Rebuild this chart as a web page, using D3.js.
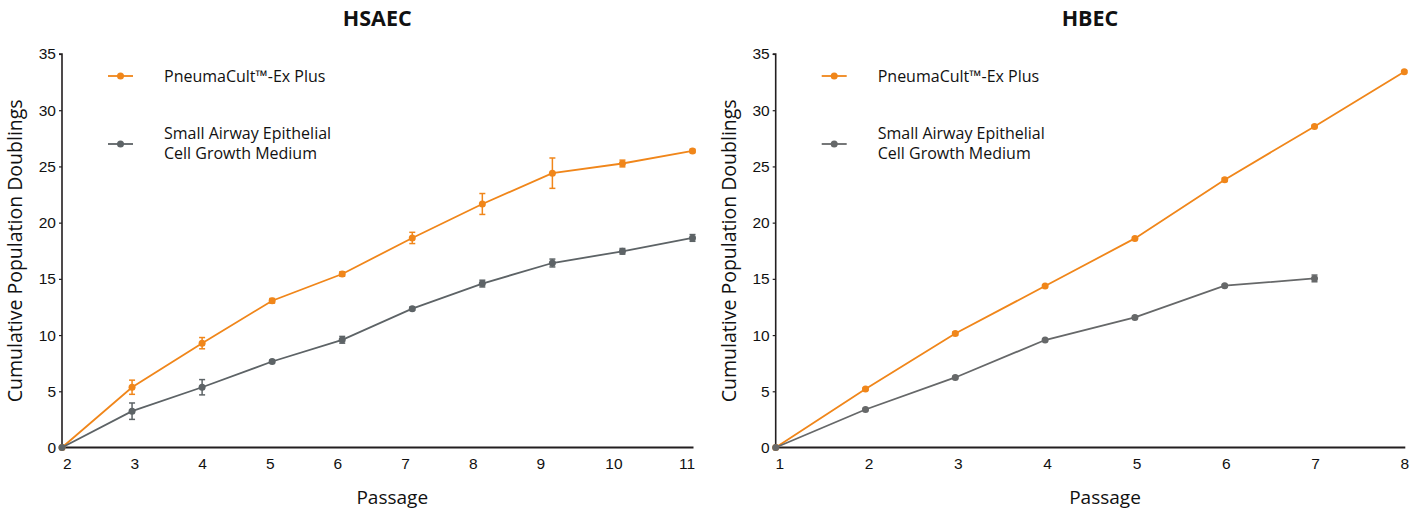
<!DOCTYPE html>
<html>
<head>
<meta charset="utf-8">
<script src="https://cdn.jsdelivr.net/npm/d3@7"></script>
<style>
  body { margin: 0; background: #fff; }
  svg { font-family: "Open Sans", "Noto Sans", sans-serif; }
</style>
</head>
<body>
<div id="chart"></div>
<script>
// HSAEC panel
const hsaecPassage = [2, 3, 4, 5, 6, 7, 8, 9, 10, 11];
const hsaecPneuma = [0, 5.36, 9.28, 13.05, 15.43, 18.64, 21.66, 24.4, 25.26, 26.38];
const hsaecPneumaErr = [0, 0.63, 0.5, 0.2, 0.2, 0.5, 0.93, 1.35, 0.3, 0.15];
const hsaecSaegm = [0, 3.23, 5.36, 7.65, 9.58, 12.35, 14.58, 16.41, 17.45, 18.64];
const hsaecSaegmErr = [0, 0.73, 0.68, 0.12, 0.3, 0.15, 0.3, 0.35, 0.25, 0.3];

// HBEC panel
const hbecPassage = [1, 2, 3, 4, 5, 6, 7, 8];
const hbecPneuma = [0, 5.2, 10.14, 14.36, 18.6, 23.82, 28.56, 33.43];
const hbecPneumaErr = [0, 0.1, 0.15, 0.1, 0.1, 0.15, 0.1, 0.1];
const hbecSaegm = [0, 3.38, 6.23, 9.56, 11.57, 14.39, 15.04];
const hbecSaegmErr = [0, 0.1, 0.1, 0.1, 0.1, 0.1, 0.3];

const yTicks = [0, 5, 10, 15, 20, 25, 30, 35];
const legendNames = [["PneumaCult\u2122-Ex Plus"], ["Small Airway Epithelial", "Cell Growth Medium"]];

const orange = "#f0861a";
const gray = "#5d6366";
const axisColor = "#231f20";

const width = 1422, height = 512;
const yTop = 54, yBottom = 447.5;

const svg = d3.select("#chart")
  .append("svg")
  .attr("width", width)
  .attr("height", height);

const y = d3.scaleLinear().domain([0, 35]).range([yBottom, yTop]);

function drawPanel(opts) {
  const g = svg.append("g");
  const x = d3.scaleLinear()
    .domain(d3.extent(opts.passages))
    .range([opts.left, opts.right]);
  // tick labels sit slightly off the data positions in the original
  const xLabel = d3.scaleLinear()
    .domain(opts.labelDomain)
    .range(opts.labelDomain.map((d, i) => x(d) + opts.labelShift[i]));

  // y axis
  g.append("g")
    .attr("transform", `translate(${opts.left},0)`)
    .call(d3.axisLeft(y).tickValues(yTicks).tickSize(3).tickPadding(3))
    .call(a => a.select(".domain").attr("stroke", axisColor).attr("stroke-width", 1.6).attr("d", `M-3,${yTop}H0V${yBottom}`))
    .call(a => a.selectAll(".tick line").attr("stroke", axisColor).attr("stroke-width", 1.2))
    .call(a => a.selectAll(".tick text").attr("font-size", 15.5).attr("fill", "#111"));

  // x axis
  g.append("g")
    .attr("transform", `translate(0,${yBottom})`)
    .call(d3.axisBottom(xLabel).tickValues(opts.passages).tickFormat(d3.format("d")).tickSize(0).tickPadding(10))
    .call(a => a.select(".domain").remove())
    .call(a => a.selectAll(".tick text").attr("font-size", 15.5).attr("fill", "#111"));
  g.append("line")
    .attr("x1", opts.left).attr("x2", opts.right + 1)
    .attr("y1", yBottom).attr("y2", yBottom)
    .attr("stroke", axisColor).attr("stroke-width", 1.8);

  // titles
  g.append("text")
    .attr("x", (opts.left + opts.right) / 2).attr("y", 26)
    .attr("text-anchor", "middle").attr("font-size", 21.5).attr("font-weight", "bold")
    .attr("fill", "#111").text(opts.title);
  g.append("text")
    .attr("x", (opts.left + opts.right) / 2 + 15).attr("y", 504)
    .attr("text-anchor", "middle").attr("font-size", 19).attr("fill", "#111")
    .text("Passage");
  g.append("text")
    .attr("transform", `translate(${opts.left - 40},${(yTop + yBottom) / 2}) rotate(-90)`)
    .attr("text-anchor", "middle").attr("font-size", 19.5).attr("fill", "#111")
    .text("Cumulative Population Doublings");

  const line = d3.line().x(d => x(d.p)).y(d => y(d.v));

  opts.series.forEach(s => {
    const pts = s.values.map((v, i) => ({ p: opts.passages[i], v: v, e: s.errors[i] }));
    g.append("path")
      .datum(pts)
      .attr("fill", "none")
      .attr("stroke", s.color)
      .attr("stroke-width", 1.8)
      .attr("d", line);

    const eb = g.append("g").attr("stroke", s.color).attr("stroke-width", 1.5);
    pts.filter(d => d.e > 0).forEach(d => {
      eb.append("line").attr("x1", x(d.p)).attr("x2", x(d.p)).attr("y1", y(d.v - d.e)).attr("y2", y(d.v + d.e));
      eb.append("line").attr("x1", x(d.p) - 3).attr("x2", x(d.p) + 3).attr("y1", y(d.v - d.e)).attr("y2", y(d.v - d.e));
      eb.append("line").attr("x1", x(d.p) - 3).attr("x2", x(d.p) + 3).attr("y1", y(d.v + d.e)).attr("y2", y(d.v + d.e));
    });

    g.selectAll(null)
      .data(pts)
      .enter()
      .append("circle")
      .attr("cx", d => x(d.p))
      .attr("cy", d => y(d.v))
      .attr("r", 3.5)
      .attr("fill", s.color);
  });

  // legend
  const rows = [76, 144];
  opts.series.forEach((s, i) => {
    const lg = g.append("g").attr("transform", `translate(${opts.left},${rows[i]})`);
    lg.append("line").attr("x1", 46).attr("x2", 71).attr("stroke", s.color).attr("stroke-width", 1.8);
    lg.append("circle").attr("cx", 58.5).attr("r", 3.5).attr("fill", s.color);
    const lines = legendNames[i];
    lines.forEach((txt, j) => {
      lg.append("text")
        .attr("x", 102)
        .attr("y", lines.length === 1 ? 6 : -5 + j * 19.5)
        .attr("font-size", 16)
        .attr("fill", "#111")
        .text(txt);
    });
  });
}

drawPanel({
  title: "HSAEC",
  passages: hsaecPassage,
  left: 62, right: 692.5,
  labelDomain: [2, 9, 11],
  labelShift: [4.7, -12, -6],
  series: [
    { values: hsaecPneuma, errors: hsaecPneumaErr, color: orange },
    { values: hsaecSaegm, errors: hsaecSaegmErr, color: gray }
  ]
});

drawPanel({
  title: "HBEC",
  passages: hbecPassage,
  left: 775.7, right: 1404.3,
  labelDomain: [1, 8],
  labelShift: [3.6, 0],
  series: [
    { values: hbecPneuma, errors: hbecPneumaErr, color: orange },
    { values: hbecSaegm, errors: hbecSaegmErr, color: "#666869" }
  ]
});
</script>
</body>
</html>
